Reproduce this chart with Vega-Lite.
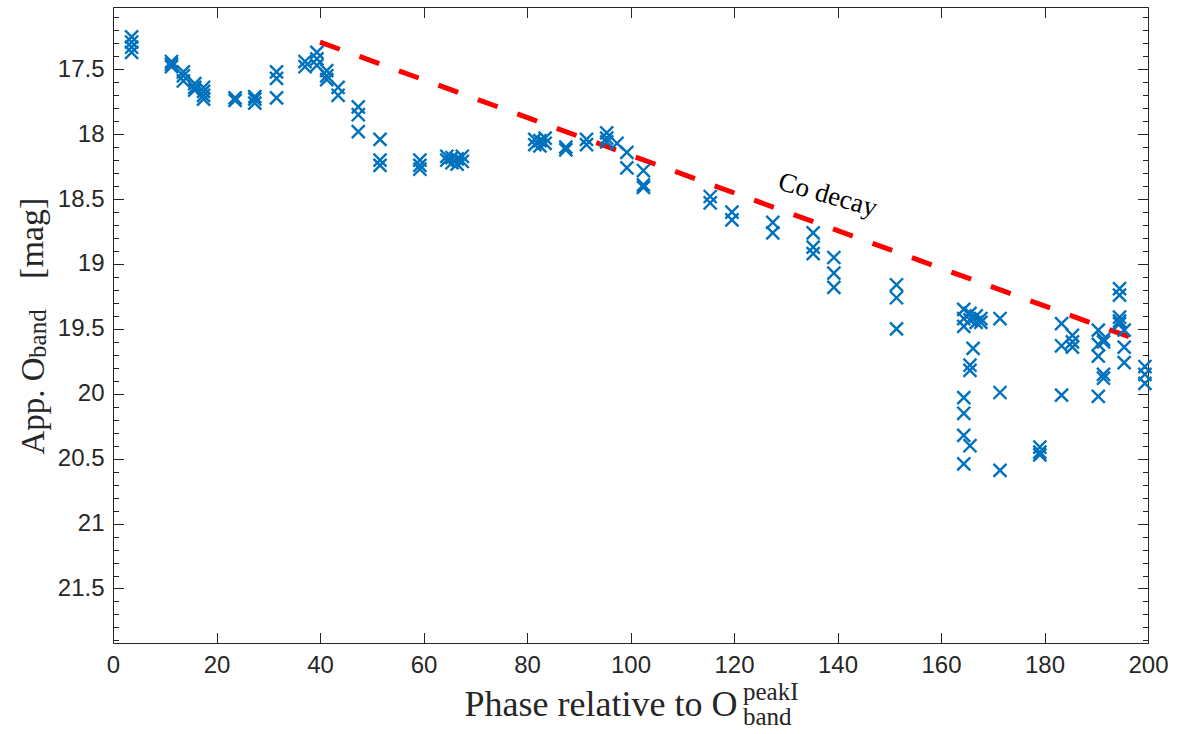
{
  "$schema": "https://vega.github.io/schema/vega-lite/v6.json",
  "width": 1035,
  "height": 636,
  "autosize": {"type": "none"},
  "padding": {"left": 113, "top": 7, "right": 29, "bottom": 91},
  "background": "white",
  "config": {
    "view": {"stroke": "#262626", "strokeWidth": 1},
    "axis": {
      "grid": false, "domain": false, "tickColor": "#262626", "tickWidth": 1,
      "labelColor": "#262626", "labelFont": "Liberation Sans", "labelFontSize": 24,
      "labelFlush": false, "labelOverlap": false,
      "titleFont": "Liberation Serif", "titleFontWeight": "normal", "titleColor": "#262626", "titleFontSize": 34
    },
    "text": {"font": "Liberation Serif", "color": "#262626"}
  },
  "datasets": {
    "obs": [
      {"phase": 3.6, "mag": 17.25}, {"phase": 3.6, "mag": 17.29}, {"phase": 3.6, "mag": 17.33}, {"phase": 3.6, "mag": 17.37},
      {"phase": 11.3, "mag": 17.44}, {"phase": 11.3, "mag": 17.46}, {"phase": 11.3, "mag": 17.48},
      {"phase": 13.6, "mag": 17.52}, {"phase": 13.6, "mag": 17.55}, {"phase": 13.6, "mag": 17.59},
      {"phase": 15.8, "mag": 17.61}, {"phase": 15.8, "mag": 17.64}, {"phase": 15.8, "mag": 17.66},
      {"phase": 17.5, "mag": 17.64}, {"phase": 17.5, "mag": 17.67}, {"phase": 17.5, "mag": 17.70}, {"phase": 17.5, "mag": 17.73},
      {"phase": 23.6, "mag": 17.72}, {"phase": 23.6, "mag": 17.74},
      {"phase": 27.4, "mag": 17.71}, {"phase": 27.4, "mag": 17.73}, {"phase": 27.4, "mag": 17.76},
      {"phase": 31.6, "mag": 17.52}, {"phase": 31.6, "mag": 17.57}, {"phase": 31.6, "mag": 17.72},
      {"phase": 37.1, "mag": 17.44}, {"phase": 37.1, "mag": 17.48},
      {"phase": 39.4, "mag": 17.37}, {"phase": 39.4, "mag": 17.42}, {"phase": 39.4, "mag": 17.47},
      {"phase": 41.3, "mag": 17.51}, {"phase": 41.3, "mag": 17.55}, {"phase": 41.3, "mag": 17.58},
      {"phase": 43.5, "mag": 17.64}, {"phase": 43.5, "mag": 17.70},
      {"phase": 47.4, "mag": 17.79}, {"phase": 47.4, "mag": 17.85}, {"phase": 47.4, "mag": 17.98},
      {"phase": 51.6, "mag": 18.04}, {"phase": 51.6, "mag": 18.20}, {"phase": 51.6, "mag": 18.24},
      {"phase": 59.3, "mag": 18.20}, {"phase": 59.3, "mag": 18.24}, {"phase": 59.3, "mag": 18.27},
      {"phase": 64.5, "mag": 18.17}, {"phase": 64.5, "mag": 18.20},
      {"phase": 65.5, "mag": 18.18}, {"phase": 65.5, "mag": 18.22},
      {"phase": 66.5, "mag": 18.19}, {"phase": 66.5, "mag": 18.23},
      {"phase": 67.5, "mag": 18.17}, {"phase": 67.5, "mag": 18.21},
      {"phase": 81.5, "mag": 18.04}, {"phase": 81.5, "mag": 18.08},
      {"phase": 82.5, "mag": 18.05}, {"phase": 82.5, "mag": 18.09},
      {"phase": 83.5, "mag": 18.03}, {"phase": 83.5, "mag": 18.07},
      {"phase": 87.5, "mag": 18.10}, {"phase": 87.5, "mag": 18.12},
      {"phase": 91.5, "mag": 18.04}, {"phase": 91.5, "mag": 18.08},
      {"phase": 95.4, "mag": 17.99}, {"phase": 95.4, "mag": 18.03}, {"phase": 95.4, "mag": 18.06},
      {"phase": 97.4, "mag": 18.07},
      {"phase": 99.3, "mag": 18.14}, {"phase": 99.3, "mag": 18.26},
      {"phase": 102.5, "mag": 18.28}, {"phase": 102.5, "mag": 18.39}, {"phase": 102.5, "mag": 18.41},
      {"phase": 115.4, "mag": 18.48}, {"phase": 115.4, "mag": 18.53},
      {"phase": 119.6, "mag": 18.60}, {"phase": 119.6, "mag": 18.66},
      {"phase": 127.5, "mag": 18.68}, {"phase": 127.5, "mag": 18.76},
      {"phase": 135.3, "mag": 18.76}, {"phase": 135.3, "mag": 18.87}, {"phase": 135.3, "mag": 18.92},
      {"phase": 139.3, "mag": 18.95}, {"phase": 139.3, "mag": 19.07}, {"phase": 139.3, "mag": 19.18},
      {"phase": 151.4, "mag": 19.16}, {"phase": 151.4, "mag": 19.26}, {"phase": 151.4, "mag": 19.50},
      {"phase": 164.4, "mag": 19.35}, {"phase": 164.4, "mag": 19.42}, {"phase": 164.4, "mag": 19.48},
      {"phase": 164.4, "mag": 20.03}, {"phase": 164.4, "mag": 20.15}, {"phase": 164.4, "mag": 20.32}, {"phase": 164.4, "mag": 20.54},
      {"phase": 165.6, "mag": 19.38}, {"phase": 165.6, "mag": 19.43}, {"phase": 165.6, "mag": 19.78}, {"phase": 165.6, "mag": 19.82}, {"phase": 165.6, "mag": 20.40},
      {"phase": 166.2, "mag": 19.65},
      {"phase": 166.8, "mag": 19.40}, {"phase": 166.8, "mag": 19.45},
      {"phase": 167.7, "mag": 19.42}, {"phase": 167.7, "mag": 19.45},
      {"phase": 171.4, "mag": 19.42}, {"phase": 171.4, "mag": 19.99}, {"phase": 171.4, "mag": 20.59},
      {"phase": 179.1, "mag": 20.41}, {"phase": 179.1, "mag": 20.45}, {"phase": 179.1, "mag": 20.47},
      {"phase": 183.3, "mag": 19.46}, {"phase": 183.3, "mag": 19.63}, {"phase": 183.3, "mag": 20.01},
      {"phase": 185.4, "mag": 19.55}, {"phase": 185.4, "mag": 19.60}, {"phase": 185.4, "mag": 19.64},
      {"phase": 190.4, "mag": 19.51}, {"phase": 190.4, "mag": 19.62}, {"phase": 190.4, "mag": 19.71}, {"phase": 190.4, "mag": 20.02},
      {"phase": 191.4, "mag": 19.58}, {"phase": 191.4, "mag": 19.60}, {"phase": 191.4, "mag": 19.85}, {"phase": 191.4, "mag": 19.88},
      {"phase": 194.5, "mag": 19.19}, {"phase": 194.5, "mag": 19.24}, {"phase": 194.5, "mag": 19.41}, {"phase": 194.5, "mag": 19.44}, {"phase": 194.5, "mag": 19.46},
      {"phase": 195.4, "mag": 19.51}, {"phase": 195.4, "mag": 19.64}, {"phase": 195.4, "mag": 19.76},
      {"phase": 199.4, "mag": 19.79}, {"phase": 199.4, "mag": 19.85}, {"phase": 199.4, "mag": 19.92}
    ],
    "co": [
      {"phase": 40, "mag": 17.29},
      {"phase": 197, "mag": 19.57}
    ]
  },
  "resolve": {"axis": {"x": "independent", "y": "independent"}},
  "layer": [
    {
      "data": {"name": "co"},
      "mark": {"type": "line", "color": "#FF0000", "strokeWidth": 5, "strokeDash": [21, 21]},
      "encoding": {
        "x": {"field": "phase", "type": "quantitative", "scale": {"domain": [0, 200], "nice": false, "zero": false},
          "axis": {"orient": "bottom", "values": [0, 20, 40, 60, 80, 100, 120, 140, 160, 180, 200], "labels": false, "ticks": true, "tickSize": -10.5, "title": null}},
        "y": {"field": "mag", "type": "quantitative", "scale": {"domain": [17.02, 21.92], "reverse": true, "nice": false, "zero": false},
          "axis": {"orient": "left", "values": [17.5, 18, 18.5, 19, 19.5, 20, 20.5, 21, 21.5], "labels": false, "ticks": true, "tickSize": -10.5, "title": null}}
      }
    },
    {
      "data": {"name": "obs"},
      "mark": {"type": "point", "shape": "M-1,-1L1,1M-1,1L1,-1", "size": 170, "filled": false, "strokeWidth": 2.4, "color": "#0072BD", "opacity": 1},
      "encoding": {
        "x": {"field": "phase", "type": "quantitative", "scale": {"domain": [0, 200], "nice": false, "zero": false},
          "axis": {"orient": "bottom", "values": [0, 20, 40, 60, 80, 100, 120, 140, 160, 180, 200], "ticks": false, "labelPadding": 10,
            "title": "Phase relative to O", "titleFontSize": 36, "titleAlign": "left", "titleBaseline": "alphabetic", "titleAnchor": "start", "titleX": 351, "titleY": 72}},
        "y": {"field": "mag", "type": "quantitative", "scale": {"domain": [17.02, 21.92], "reverse": true, "nice": false, "zero": false},
          "axis": {"orient": "left", "values": [17.5, 18, 18.5, 19, 19.5, 20, 20.5, 21, 21.5], "format": "~g", "ticks": false, "labelPadding": 9,
            "title": "App. O", "titleFontSize": 33, "titleAngle": 270, "titleAlign": "left", "titleBaseline": "alphabetic", "titleAnchor": "start", "titleX": -70, "titleY": 447}}
      }
    },
    {
      "data": {"values": [{}]},
      "mark": {"type": "text", "text": "Co decay", "fontSize": 27, "angle": 16, "align": "center", "baseline": "middle", "color": "#000000"},
      "encoding": {
        "x": {"datum": 138.1, "type": "quantitative", "scale": {"domain": [0, 200], "nice": false, "zero": false},
          "axis": {"orient": "top", "values": [0, 20, 40, 60, 80, 100, 120, 140, 160, 180, 200], "labels": false, "ticks": true, "tickSize": -10.5, "title": null}},
        "y": {"datum": 18.47, "type": "quantitative", "scale": {"domain": [17.02, 21.92], "reverse": true, "nice": false, "zero": false},
          "axis": {"orient": "right", "values": [17.5, 18, 18.5, 19, 19.5, 20, 20.5, 21, 21.5], "labels": false, "ticks": true, "tickSize": -10.5, "title": null}}
      }
    },
    {
      "data": {"values": [{}]},
      "mark": {"type": "text", "text": "band", "fontSize": 25, "angle": 270, "align": "left", "baseline": "alphabetic"},
      "encoding": {
        "x": {"datum": -12.95, "type": "quantitative", "scale": {"domain": [0, 200], "nice": false, "zero": false}, "axis": null},
        "y": {"datum": 19.724, "type": "quantitative", "scale": {"domain": [17.02, 21.92], "reverse": true, "nice": false, "zero": false},
          "axis": {"orient": "left", "values": [17.1, 17.2, 17.3, 17.4, 17.6, 17.7, 17.8, 17.9, 18.1, 18.2, 18.3, 18.4, 18.6, 18.7, 18.8, 18.9, 19.1, 19.2, 19.3, 19.4, 19.6, 19.7, 19.8, 19.9, 20.1, 20.2, 20.3, 20.4, 20.6, 20.7, 20.8, 20.9, 21.1, 21.2, 21.3, 21.4, 21.6, 21.7, 21.8, 21.9], "labels": false, "ticks": true, "tickSize": -5.5, "title": null}}
      }
    },
    {
      "data": {"values": [{}]},
      "mark": {"type": "text", "text": "[mag]", "fontSize": 34, "angle": 270, "align": "left", "baseline": "alphabetic"},
      "encoding": {
        "x": {"datum": -13.53, "type": "quantitative", "scale": {"domain": [0, 200], "nice": false, "zero": false}, "axis": null},
        "y": {"datum": 19.115, "type": "quantitative", "scale": {"domain": [17.02, 21.92], "reverse": true, "nice": false, "zero": false},
          "axis": {"orient": "right", "values": [17.1, 17.2, 17.3, 17.4, 17.6, 17.7, 17.8, 17.9, 18.1, 18.2, 18.3, 18.4, 18.6, 18.7, 18.8, 18.9, 19.1, 19.2, 19.3, 19.4, 19.6, 19.7, 19.8, 19.9, 20.1, 20.2, 20.3, 20.4, 20.6, 20.7, 20.8, 20.9, 21.1, 21.2, 21.3, 21.4, 21.6, 21.7, 21.8, 21.9], "labels": false, "ticks": true, "tickSize": -5.5, "title": null}}
      }
    },
    {
      "data": {"values": [{}]},
      "mark": {"type": "text", "text": "peakI", "fontSize": 25, "align": "left", "baseline": "alphabetic"},
      "encoding": {
        "x": {"datum": 121.74, "type": "quantitative", "scale": {"domain": [0, 200], "nice": false, "zero": false}, "axis": null},
        "y": {"datum": 22.359, "type": "quantitative", "scale": {"domain": [17.02, 21.92], "reverse": true, "nice": false, "zero": false}, "axis": null}
      }
    },
    {
      "data": {"values": [{}]},
      "mark": {"type": "text", "text": "band", "fontSize": 25, "align": "left", "baseline": "alphabetic"},
      "encoding": {
        "x": {"datum": 121.74, "type": "quantitative", "scale": {"domain": [0, 200], "nice": false, "zero": false}, "axis": null},
        "y": {"datum": 22.552, "type": "quantitative", "scale": {"domain": [17.02, 21.92], "reverse": true, "nice": false, "zero": false}, "axis": null}
      }
    }
  ]
}
